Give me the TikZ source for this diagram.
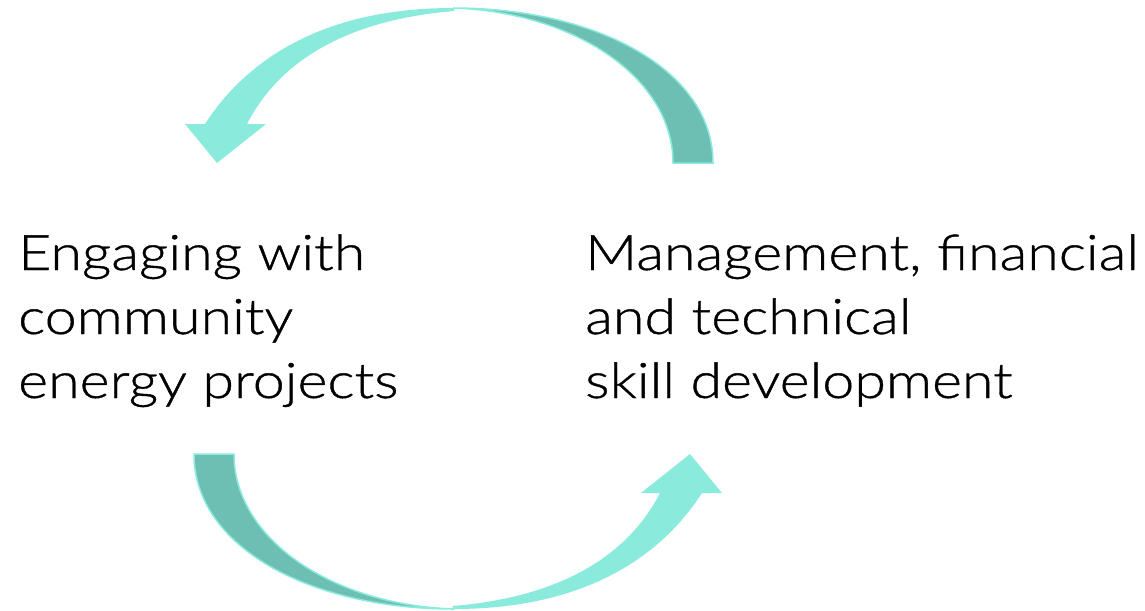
\documentclass[tikz,border=0pt]{standalone}
\usepackage{fontspec}
\setmainfont[FakeStretch=1.17,FakeBold=0.8]{Lato Light}
\definecolor{aqualight}{RGB}{138,235,221}
\definecolor{aquadark}{RGB}{109,191,179}
\tikzset{
  headpart/.style={fill=aqualight},
  tailpart/.style={fill=aquadark, draw=aqualight, line width=1.5pt},
  cycletext/.style={align=left, inner sep=0pt, anchor=base west, font=\fontsize{49}{64}\selectfont}
}
\begin{document}
\begin{tikzpicture}[x=1pt,y=-1pt]
\useasboundingbox (0,0) rectangle (1145,610);

% Arrows (lower one is the upper one turned round the middle)
\foreach \turn in {0,180} {
  \begin{scope}[rotate around={\turn:(453.5,308.5)}]
    % head part
    \fill[headpart] (453,8) .. controls (320,8) and (245,62) .. (205,124) -- (185,124) -- (217,163) -- (266,124) -- (247,124) .. controls (285,50) and (365,18) .. (455,11) -- cycle;
    % tail part
    \filldraw[tailpart] (713,163) .. controls (713,70) and (597,8) .. (453,8) .. controls (575,12) and (673,78) .. (673,163) -- cycle;
  \end{scope}
}

% Labels (anchored on the last line)
\node[cycletext] (engage) at (18,398) {Engaging with\\community\\energy projects};
\node[cycletext] (skills) at (585,398) {Management, financial\\and technical\\skill development};

\end{tikzpicture}
\end{document}
